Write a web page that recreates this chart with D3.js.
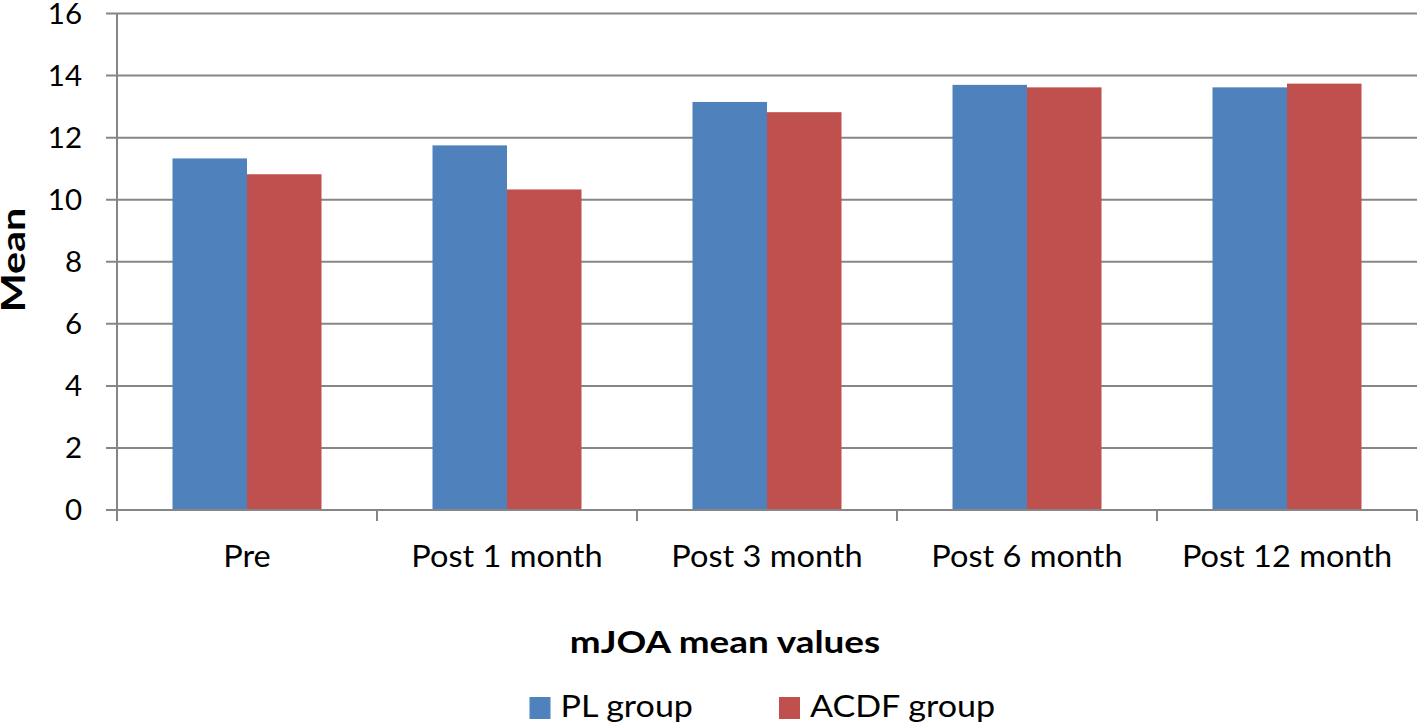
<!DOCTYPE html>
<html><head><meta charset="utf-8">
<script src="https://cdn.jsdelivr.net/npm/d3@7"></script>
<style>body{margin:0;background:#fff;} svg{display:block;}</style>
</head><body>
<svg id="c" width="1419" height="727"></svg>
<script>
const categories = ["Pre", "Post 1 month", "Post 3 month", "Post 6 month", "Post 12 month"];
const seriesNames = ["PL group", "ACDF group"];
const plValues = [11.33, 11.75, 13.15, 13.70, 13.62];
const acdfValues = [10.82, 10.33, 12.82, 13.62, 13.74];
const yTicks = [0, 2, 4, 6, 8, 10, 12, 14, 16];
const colors = ["#4F81BD", "#C0504D"];

(function () {
const font = "Lato, 'Open Sans', sans-serif";
const svg = d3.select("#c");
const mLeft = 117, mRight = 1417, mTop = 13.5, mBottom = 510;

const x = d3.scaleBand().domain(categories).range([mLeft, mRight]).paddingInner(0).paddingOuter(0);
const inner = d3.scaleBand().domain(seriesNames).range([0, x.bandwidth()]).paddingInner(0).paddingOuter(0.745);
const y = d3.scaleLinear().domain([0, 16]).range([mBottom, mTop]);

svg.append("g").selectAll("line").data(yTicks).join("line")
  .attr("x1", mLeft - 11).attr("x2", mRight)
  .attr("y1", d => y(d)).attr("y2", d => y(d))
  .attr("stroke", "#868686").attr("stroke-width", 2);

const data = categories.map((c, i) => ({c, vals: [plValues[i], acdfValues[i]]}));
const groups = svg.append("g").selectAll("g").data(data).join("g")
  .attr("transform", d => `translate(${x(d.c)},0)`);
groups.selectAll("rect").data(d => d.vals.map((v, j) => ({s: seriesNames[j], v, j}))).join("rect")
  .attr("x", d => inner(d.s)).attr("width", inner.bandwidth())
  .attr("y", d => y(d.v)).attr("height", d => y(0) - y(d.v))
  .attr("fill", d => colors[d.j]);

svg.append("line").attr("x1", mLeft).attr("x2", mLeft).attr("y1", mTop).attr("y2", mBottom)
  .attr("stroke", "#868686").attr("stroke-width", 2);
svg.append("line").attr("x1", mLeft).attr("x2", mRight).attr("y1", mBottom).attr("y2", mBottom)
  .attr("stroke", "#868686").attr("stroke-width", 2);
const bounds = categories.map(c => x(c)).concat([mRight]);
svg.append("g").selectAll("line").data(bounds).join("line")
  .attr("x1", d => d).attr("x2", d => d).attr("y1", mBottom).attr("y2", mBottom + 11)
  .attr("stroke", "#868686").attr("stroke-width", 2);

svg.append("g").selectAll("text").data(yTicks).join("text")
  .attr("x", 82).attr("y", d => y(d) + 10)
  .attr("text-anchor", "end").attr("font-family", font).attr("font-size", 29.5)
  .attr("fill", "#000").text(d => d);

svg.append("g").selectAll("text").data(categories).join("text")
  .attr("transform", d => `translate(${x(d) + x.bandwidth() / 2},567) scale(1.06,1)`)
  .attr("text-anchor", "middle").attr("font-family", font).attr("font-size", 30.7)
  .attr("fill", "#000").text(d => d);

svg.append("text").attr("transform", "translate(725,653) scale(1.2,1)").attr("text-anchor", "middle")
  .attr("font-family", font).attr("font-size", 30.7).attr("font-weight", "bold").text("mJOA mean values");
svg.append("text").attr("transform", "translate(25,260) rotate(-90) scale(1.25,1)").attr("text-anchor", "middle")
  .attr("font-family", font).attr("font-size", 33).attr("font-weight", "bold").text("Mean");

const legX = [529.5, 779];
const leg = svg.append("g").selectAll("g").data(seriesNames).join("g")
  .attr("transform", (d, i) => `translate(${legX[i]},0)`);
leg.append("rect").attr("x", 0).attr("y", 697).attr("width", 21).attr("height", 22)
  .attr("fill", (d, i) => colors[i]);
leg.append("text").attr("transform", "translate(31,717) scale(1.11,1)").attr("font-family", font).attr("font-size", 30.7)
  .attr("fill", "#000").text(d => d);
})();
</script>
</body></html>
